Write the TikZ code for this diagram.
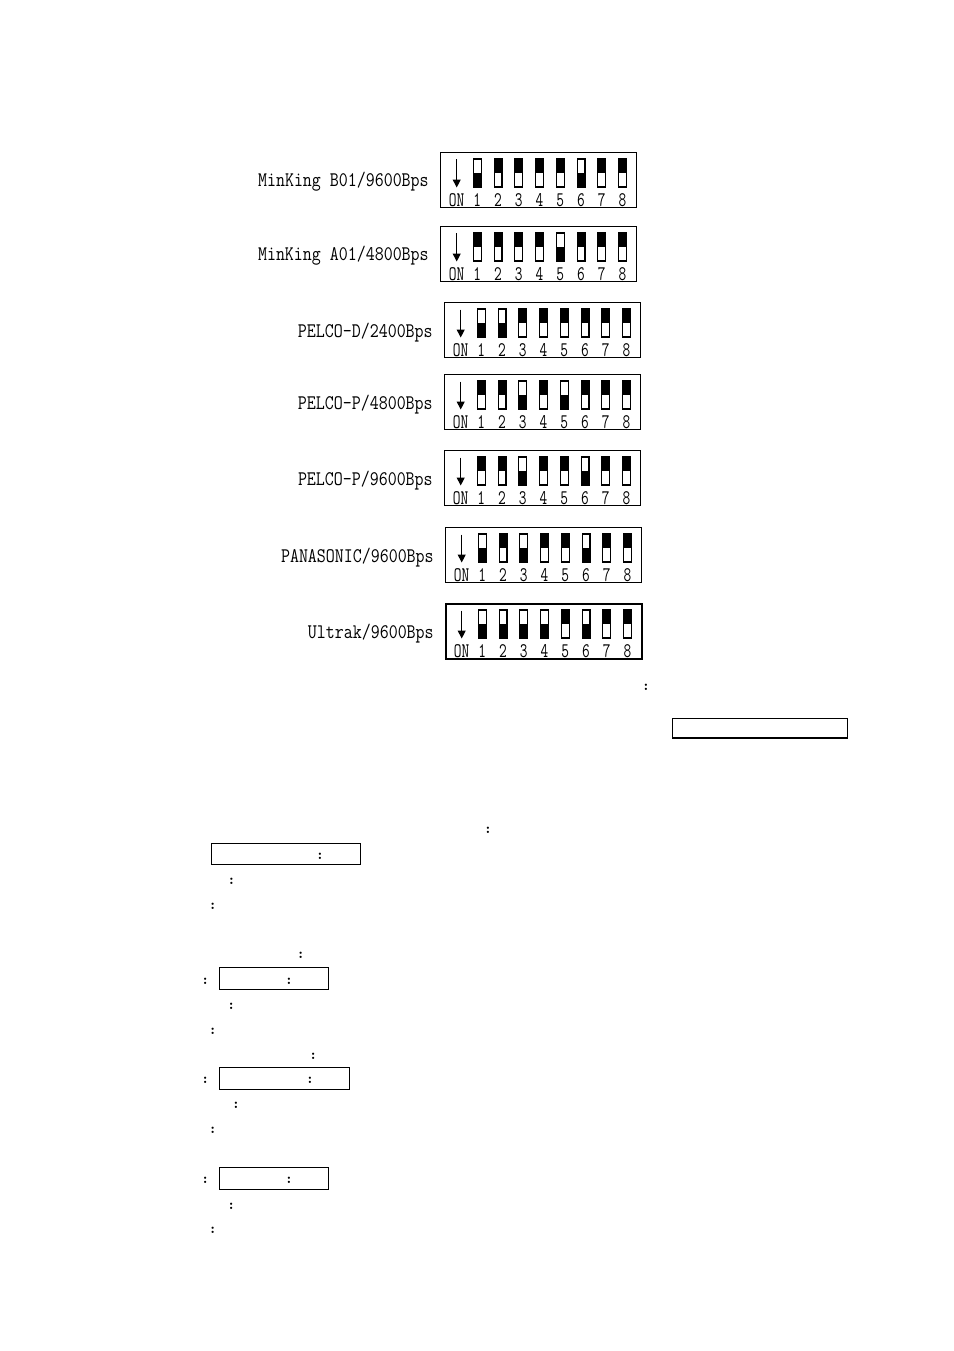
\documentclass[tikz,border=0pt]{standalone}
\usepackage{graphicx}
\usetikzlibrary{arrows.meta}
\newcommand\dipfont{\fontsize{13}{15}\selectfont\ttfamily}
\newcommand\lab[1]{\scalebox{0.84}[1]{\dipfont #1}}
\newcommand\num[1]{\scalebox{0.72}[1]{\dipfont #1}}
\tikzset{
dipbox/.style={rectangle,draw,minimum width=43.14mm,minimum height=12.11mm,inner sep=0pt,anchor=north west},
toggle/.style={rectangle,draw,line width=0.7pt,minimum width=1.76mm,minimum height=6.16mm,inner sep=0pt},
colon/.style={inner sep=0pt,font=\fontsize{9}{9}\selectfont\bfseries},
frame/.style={rectangle,draw,line width=0.7pt,inner sep=0pt,anchor=north west}
}
\begin{document}
\begin{tikzpicture}[x=0.2201mm,y=-0.2201mm]
\useasboundingbox (0,0) rectangle (954,1351);
\foreach \name/\txt/\bx/\by/\lw/\sw in {
b01/{MinKing B01/9600Bps}/440/152/0.85/{0,1,1,1,1,0,1,1},
a01/{MinKing A01/4800Bps}/440/226/0.85/{1,1,1,1,0,1,1,1},
pd24/{PELCO-D/2400Bps}/444/302/0.85/{0,0,1,1,1,1,1,1},
pp48/{PELCO-P/4800Bps}/444/374/0.85/{1,1,0,1,0,1,1,1},
pp96/{PELCO-P/9600Bps}/444/450/0.85/{1,1,0,1,1,0,1,1},
pana/{PANASONIC/9600Bps}/445/527/0.85/{0,1,0,1,1,0,1,1},
ultrak/{Ultrak/9600Bps}/445/603/1.4/{0,0,0,0,1,0,1,1}}{
\node[dipbox,line width=\lw pt] (\name) at (\bx,\by) {};
\node[anchor=base east,inner sep=0pt] (\name-l) at (\bx-11,\by+35) {\lab{\txt}};
\coordinate (\name-a) at (\bx+16.7,\by+7.5);
\coordinate (\name-b) at (\bx+16.7,\by+35.5);
\draw[line width=0.7pt,-{Triangle[length=5pt,width=5pt]}] (\name-a) -- (\name-b);
\node[anchor=base,inner sep=0pt] (\name-on) at (\bx+16.5,\by+54.5) {\num{ON}};
\foreach \s [count=\i] in \sw {
\node[toggle] (\name-\i) at ({\bx+37.3+(\i-1)*20.75},\by+21) {};
\ifnum\s=1 \fill (\name-\i.north west) rectangle (\name-\i.east);
\else \fill (\name-\i.west) rectangle (\name-\i.south east); \fi
\node[anchor=base,inner sep=0pt] (\name-n\i) at (\name-\i |- \name-on.base) {\num{\i}};
}
}
\node[frame,minimum width=38.41mm,minimum height=4.29mm] (f1) at (672,718) {};
\node[frame,minimum width=32.66mm,minimum height=4.75mm] (f2) at (211.3,842.7) {};
\node[frame,minimum width=23.99mm,minimum height=4.84mm] (f3) at (219.3,967.3) {};
\node[frame,minimum width=28.61mm,minimum height=4.84mm] (f4) at (219.3,1067.3) {};
\node[frame,minimum width=23.99mm,minimum height=4.84mm] (f5) at (219.3,1167.3) {};
\foreach \cx/\cy [count=\k] in {646/687,488/830.5,320/856,231.5/881,212.7/906,
300.7/955.7,205.3/981,289/981,231.3/1006,212.7/1031,
313.3/1056,205.3/1080.7,310/1080.7,236/1105.7,212.7/1130.7,
205.3/1180.7,289/1180.7,231.3/1206,212.7/1230.7}
\node[colon] (c\k) at (\cx,\cy) {:};
\end{tikzpicture}
\end{document}
